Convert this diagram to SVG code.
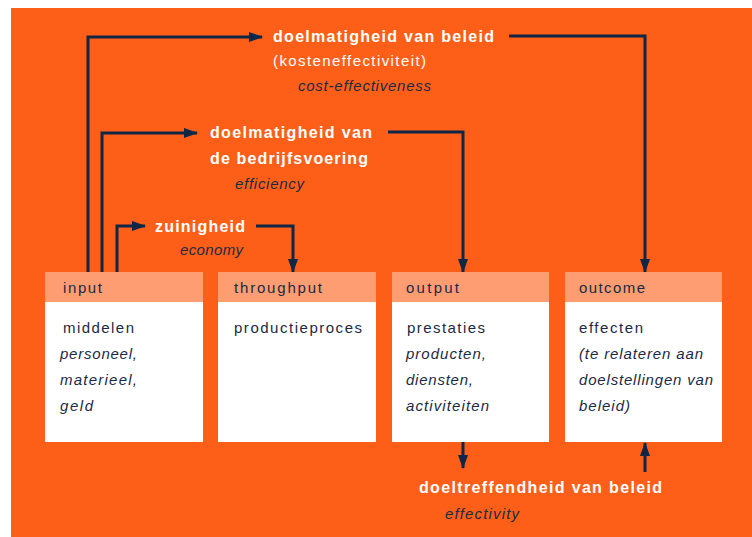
<svg xmlns="http://www.w3.org/2000/svg" width="752" height="537" viewBox="0 0 752 537">
<style>
.bg{fill:#FE5F18}
.hd{fill:#FE9C72}
.bd{fill:#FFFFFF}
.t{font-family:"Liberation Sans",Arial,sans-serif;font-size:15px;fill:#1A2A45}
.i{font-style:italic}
.w{font-family:"Liberation Sans",Arial,sans-serif;font-size:16px;font-weight:bold;fill:#FFFFFF}
.ln{fill:none;stroke:#0E2747;stroke-width:3}
</style>
<defs>
<marker id="ah" markerUnits="userSpaceOnUse" markerWidth="14" markerHeight="12" viewBox="0 0 14 12" refX="13" refY="6" orient="auto">
<path d="M0,1 L14,6 L0,11 Z" fill="#0E2747"/>
</marker>
</defs>
<rect x="0" y="0" width="752" height="537" fill="#FFFFFF"/>
<rect class="bg" x="11" y="8" width="741" height="529"/>

<g id="connectors">
<polyline class="ln" points="88,272 88,37 262,37" marker-end="url(#ah)"/>
<polyline class="ln" points="509,36 645,36 645,272" marker-end="url(#ah)"/>
<polyline class="ln" points="102,272 102,133 197,133" marker-end="url(#ah)"/>
<polyline class="ln" points="388,132 463,132 463,272" marker-end="url(#ah)"/>
<polyline class="ln" points="117,272 117,226 145,226" marker-end="url(#ah)"/>
<polyline class="ln" points="256,226 293,226 293,272" marker-end="url(#ah)"/>
<polyline class="ln" points="463,442 463,468" marker-end="url(#ah)"/>
<polyline class="ln" points="645,472 645,443" marker-end="url(#ah)"/>
</g>

<g id="label-costeff">
<text class="w" x="273" y="42" textLength="221" lengthAdjust="spacing">doelmatigheid van beleid</text>
<text class="w" x="273" y="66" textLength="153" lengthAdjust="spacing" style="font-weight:normal;font-size:15px">(kosteneffectiviteit)</text>
<text class="t i" x="298" y="91" textLength="133" lengthAdjust="spacing">cost-effectiveness</text>
</g>
<g id="label-efficiency">
<text class="w" x="210" y="138" textLength="162" lengthAdjust="spacing">doelmatigheid van</text>
<text class="w" x="210" y="164" textLength="158" lengthAdjust="spacing">de bedrijfsvoering</text>
<text class="t i" x="235" y="189" textLength="69" lengthAdjust="spacing">efficiency</text>
</g>
<g id="label-economy">
<text class="w" x="155" y="232" textLength="90" lengthAdjust="spacing">zuinigheid</text>
<text class="t i" x="180" y="255" textLength="63" lengthAdjust="spacing">economy</text>
</g>
<g id="label-effectivity">
<text class="w" x="419" y="493" textLength="243" lengthAdjust="spacing">doeltreffendheid van beleid</text>
<text class="t i" x="445" y="519" textLength="74" lengthAdjust="spacing">effectivity</text>
</g>

<g id="node-input">
<rect class="bd" x="45" y="272" width="158" height="170"/>
<rect class="hd" x="45" y="272" width="158" height="30"/>
<text class="t" x="63" y="293" textLength="39" lengthAdjust="spacing">input</text>
<text class="t" x="63" y="333" textLength="71" lengthAdjust="spacing">middelen</text>
<text class="t i" x="60" y="359" textLength="77" lengthAdjust="spacing">personeel,</text>
<text class="t i" x="60" y="385" textLength="77" lengthAdjust="spacing">materieel,</text>
<text class="t i" x="60" y="411" textLength="33" lengthAdjust="spacing">geld</text>
</g>
<g id="node-throughput">
<rect class="bd" x="218" y="272" width="158" height="170"/>
<rect class="hd" x="218" y="272" width="158" height="30"/>
<text class="t" x="234" y="293" textLength="88" lengthAdjust="spacing">throughput</text>
<text class="t" x="234" y="333" textLength="128" lengthAdjust="spacing">productieproces</text>
</g>
<g id="node-output">
<rect class="bd" x="392" y="272" width="157" height="170"/>
<rect class="hd" x="392" y="272" width="157" height="30"/>
<text class="t" x="406" y="293" textLength="53" lengthAdjust="spacing">output</text>
<text class="t" x="407" y="333" textLength="78" lengthAdjust="spacing">prestaties</text>
<text class="t i" x="406" y="359" textLength="80" lengthAdjust="spacing">producten,</text>
<text class="t i" x="406" y="385" textLength="67" lengthAdjust="spacing">diensten,</text>
<text class="t i" x="406" y="411" textLength="83" lengthAdjust="spacing">activiteiten</text>
</g>
<g id="node-outcome">
<rect class="bd" x="565" y="272" width="157" height="170"/>
<rect class="hd" x="565" y="272" width="157" height="30"/>
<text class="t" x="579" y="293" textLength="66" lengthAdjust="spacing">outcome</text>
<text class="t" x="579" y="333" textLength="64" lengthAdjust="spacing">effecten</text>
<text class="t i" x="579" y="359" textLength="124" lengthAdjust="spacing">(te relateren aan</text>
<text class="t i" x="579" y="385" textLength="134" lengthAdjust="spacing">doelstellingen van</text>
<text class="t i" x="579" y="411" textLength="51" lengthAdjust="spacing">beleid)</text>
</g>
</svg>
